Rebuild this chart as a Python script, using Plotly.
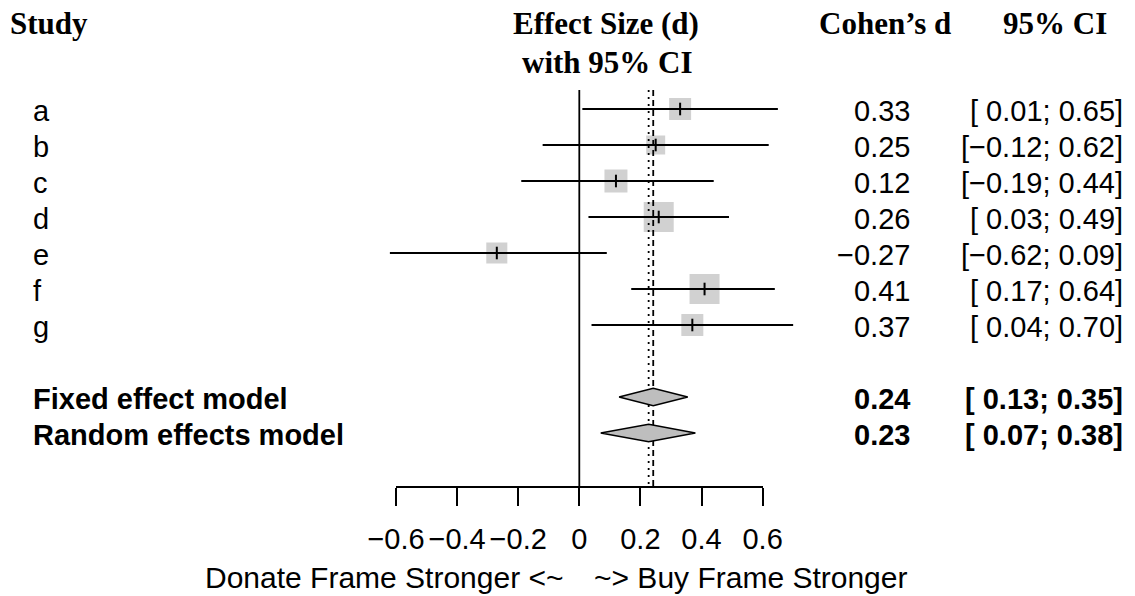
import plotly.graph_objects as go

# ---------------- data ----------------
studies = ["a", "b", "c", "d", "e", "f", "g"]
effect = [0.33, 0.25, 0.12, 0.26, -0.27, 0.41, 0.37]
lower = [0.01, -0.12, -0.19, 0.03, -0.62, 0.17, 0.04]
upper = [0.65, 0.62, 0.44, 0.49, 0.09, 0.64, 0.70]
weights = [11.8, 8.8, 12.9, 22.0, 10.8, 22.0, 11.8]
effect_text = ["0.33", "0.25", "0.12", "0.26", "\u22120.27", "0.41", "0.37"]
ci_text = ["[ 0.01; 0.65]", "[\u22120.12; 0.62]", "[\u22120.19; 0.44]", "[ 0.03; 0.49]",
           "[\u22120.62; 0.09]", "[ 0.17; 0.64]", "[ 0.04; 0.70]"]

models = ["Fixed effect model", "Random effects model"]
model_est = [0.242, 0.227]
model_lower = [0.13, 0.07]
model_upper = [0.355, 0.38]
model_effect_text = ["0.24", "0.23"]
model_ci_text = ["[ 0.13; 0.35]", "[ 0.07; 0.38]"]

tick_vals = [-0.6, -0.4, -0.2, 0, 0.2, 0.4, 0.6]
tick_labels = ["\u22120.6", "\u22120.4", "\u22120.2", "0", "0.2", "0.4", "0.6"]
label_left = "Donate Frame Stronger <~"
label_right = "~> Buy Frame Stronger"

# ---------------- layout geometry ----------------
W, H = 1135, 596
X0_PX, PPU = 579.3, 305.5          # pixel of effect 0, pixels per unit
Y1_PX, ROW_PX = 109.0, 36.0        # pixel of first row, pixels per row
SANS = "Liberation Sans, Arial, Helvetica, sans-serif"
SERIF = "Liberation Serif, Times New Roman, serif"
FS = 29
XFS = 30
HFS = 31
GRAY = "#bebebe"


def px(xp):
    return xp / W


def py(yp):
    return 1 - yp / H


study_rows = list(range(1, len(studies) + 1))
model_rows = [len(studies) + 2 + i for i in range(len(models))]
top_row = 1 + (90 - Y1_PX) / ROW_PX
axis_row = 1 + (487 - Y1_PX) / ROW_PX
txt_dy = 0.05  # text sits slightly below the line centre

fig = go.Figure()

max_w = max(weights)
sizes = [30 * (w / max_w) ** 0.5 for w in weights]
fig.add_trace(go.Scatter(x=effect, y=study_rows, mode="markers",
                         marker=dict(symbol="square", size=sizes, color=GRAY,
                                     line=dict(width=0)),
                         hoverinfo="skip", showlegend=False))

fig.add_trace(go.Scatter(x=[0, 0], y=[top_row, axis_row], mode="lines",
                         line=dict(color="black", width=1.8),
                         hoverinfo="skip", showlegend=False))
fig.add_trace(go.Scatter(x=[model_est[0]] * 2, y=[top_row, axis_row], mode="lines",
                         line=dict(color="black", width=1.8, dash="6px,4px"),
                         hoverinfo="skip", showlegend=False))
fig.add_trace(go.Scatter(x=[model_est[1]] * 2, y=[top_row, axis_row], mode="lines",
                         line=dict(color="black", width=1.8, dash="2px,5px"),
                         hoverinfo="skip", showlegend=False))

cx, cy = [], []
for lo, hi, r in zip(lower, upper, study_rows):
    cx += [lo, hi, None]
    cy += [r, r, None]
fig.add_trace(go.Scatter(x=cx, y=cy, mode="lines",
                         line=dict(color="black", width=1.9),
                         hoverinfo="skip", showlegend=False))

fig.add_trace(go.Scatter(x=effect, y=study_rows, mode="markers",
                         marker=dict(symbol="line-ns", size=9,
                                     line=dict(color="black", width=2)),
                         hoverinfo="skip", showlegend=False))

half_h = 0.24
for est, lo, hi, r in zip(model_est, model_lower, model_upper, model_rows):
    fig.add_trace(go.Scatter(x=[lo, est, hi, est, lo],
                             y=[r, r - half_h, r, r + half_h, r],
                             mode="lines", fill="toself", fillcolor=GRAY,
                             line=dict(color="black", width=1.5),
                             hoverinfo="skip", showlegend=False))

fig.add_trace(go.Scatter(x=[tick_vals[0], tick_vals[-1]], y=[100, 100], mode="lines",
                         xaxis="x2", yaxis="y", hoverinfo="skip", showlegend=False))

ann = []
ann.append(dict(text="<b>Study</b>", x=px(8), xanchor="left", y=py(23), yanchor="middle",
                font=dict(family=SERIF, size=HFS)))
ann.append(dict(text="<b>Effect Size (d)</b>", x=px(606), xanchor="center", y=py(23),
                yanchor="middle", font=dict(family=SERIF, size=HFS)))
ann.append(dict(text="<b>with 95% CI</b>", x=px(607), xanchor="center", y=py(62),
                yanchor="middle", font=dict(family=SERIF, size=HFS)))
ann.append(dict(text="<b>Cohen\u2019s d</b>", x=px(885), xanchor="center", y=py(23),
                yanchor="middle", font=dict(family=SERIF, size=HFS)))
ann.append(dict(text="<b>95% CI</b>", x=px(1055), xanchor="center", y=py(23),
                yanchor="middle", font=dict(family=SERIF, size=HFS)))

for lab, et, ct, r in zip(studies, effect_text, ci_text, study_rows):
    ann.append(dict(text=lab, x=px(31), xanchor="left", y=r + txt_dy, yref="y",
                    yanchor="middle", font=dict(family=SANS, size=FS)))
    ann.append(dict(text=et, x=px(912), xanchor="right", y=r + txt_dy, yref="y",
                    yanchor="middle", font=dict(family=SANS, size=FS)))
    ann.append(dict(text=ct, x=px(1125), xanchor="right", y=r + txt_dy, yref="y",
                    yanchor="middle", font=dict(family=SANS, size=FS)))

for lab, et, ct, r in zip(models, model_effect_text, model_ci_text, model_rows):
    ann.append(dict(text="<b>" + lab + "</b>", x=px(31), xanchor="left", y=r + txt_dy,
                    yref="y", yanchor="middle", font=dict(family=SANS, size=FS)))
    ann.append(dict(text="<b>" + et + "</b>", x=px(912), xanchor="right", y=r + txt_dy,
                    yref="y", yanchor="middle", font=dict(family=SANS, size=FS)))
    ann.append(dict(text="<b>" + ct + "</b>", x=px(1125), xanchor="right", y=r + txt_dy,
                    yref="y", yanchor="middle", font=dict(family=SANS, size=FS)))

ann.append(dict(text=label_left, x=px(566), xanchor="right", y=py(577), yanchor="middle",
                font=dict(family=SANS, size=XFS)))
ann.append(dict(text=label_right, x=px(592), xanchor="left", y=py(577), yanchor="middle",
                font=dict(family=SANS, size=XFS)))

for a in ann:
    a.setdefault("xref", "paper")
    a.setdefault("yref", "paper")
    a["showarrow"] = False
    a["font"]["color"] = "black"

fig.update_layout(
    width=W, height=H,
    margin=dict(l=0, r=0, t=0, b=0, pad=0, autoexpand=False),
    paper_bgcolor="white", plot_bgcolor="rgba(0,0,0,0)",
    showlegend=False,
    xaxis=dict(range=[-X0_PX / PPU, (W - X0_PX) / PPU], visible=False, domain=[0, 1],
               automargin=False),
    xaxis2=dict(domain=[px(X0_PX + PPU * tick_vals[0]), px(X0_PX + PPU * tick_vals[-1])],
                range=[tick_vals[0], tick_vals[-1]], anchor="free",
                position=(H - 487) / H, automargin=False,
                tickvals=tick_vals, ticktext=tick_labels,
                ticks="outside", ticklen=18, tickwidth=1.8, tickcolor="black",
                ticklabelstandoff=8,
                showline=True, linecolor="black", linewidth=1.8,
                showgrid=False, zeroline=False,
                tickfont=dict(family=SANS, size=FS, color="black")),
    yaxis=dict(range=[1 + (H - Y1_PX) / ROW_PX, 1 - Y1_PX / ROW_PX], visible=False,
               domain=[0, 1], automargin=False),
    annotations=ann,
)

fig.write_html("out.html",
               config={"displayModeBar": False},
               post_script="document.body.style.margin='0';"
                           "document.body.style.overflow='hidden';")
